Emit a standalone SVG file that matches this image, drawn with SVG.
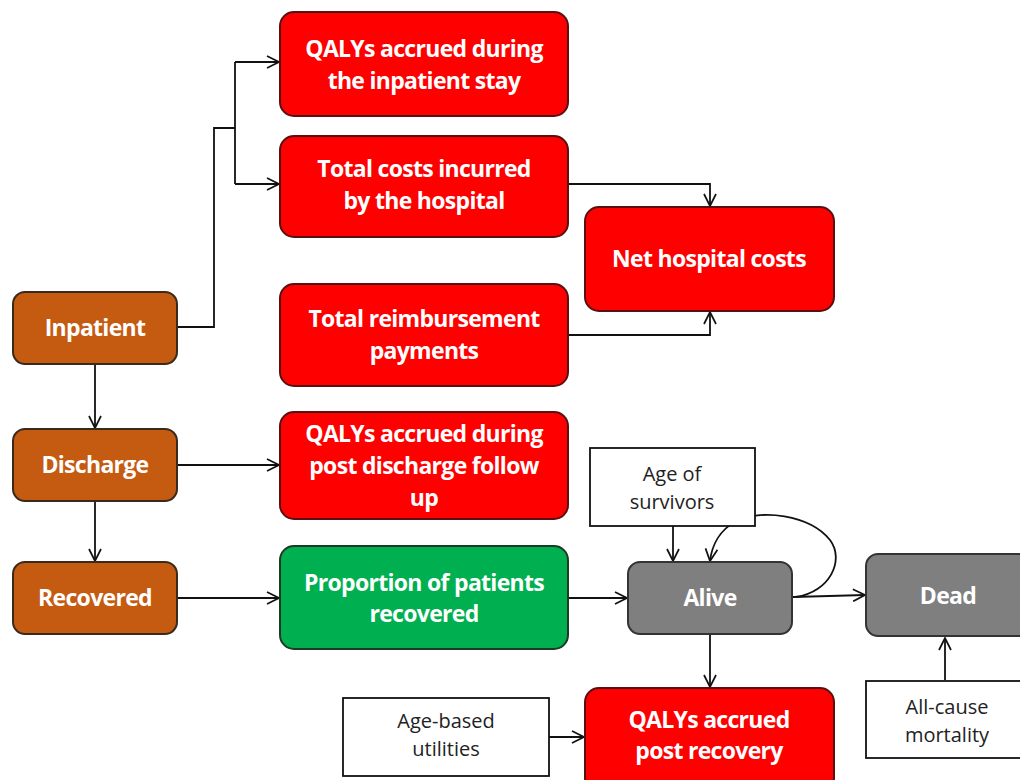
<svg xmlns="http://www.w3.org/2000/svg" width="1020" height="780" viewBox="0 0 1020 780">
<defs>
<marker id="arr" viewBox="0 0 14 14" refX="13" refY="7" markerWidth="14" markerHeight="14" markerUnits="userSpaceOnUse" orient="auto">
<path d="M1,1 L13,7 L1,13" fill="none" stroke="#111" stroke-width="1.7"/>
</marker>
<style>
.c{fill:none;stroke:#111;stroke-width:1.8}
.or{fill:#C55A11;stroke:#3a2a1e;stroke-width:2}
.rd{fill:#FF0000;stroke:#5a1010;stroke-width:2}
.gr{fill:#00B050;stroke:#1d3a25;stroke-width:2}
.gy{fill:#7F7F7F;stroke:#333;stroke-width:2}
.wb{fill:#fff;stroke:#111;stroke-width:1.8}
.t{font-family:"Open Sans","Liberation Sans",sans-serif;font-weight:bold;font-size:23px;fill:#fff;text-anchor:middle;letter-spacing:-0.7px}
.s{font-family:"Open Sans","Liberation Sans",sans-serif;font-size:20px;fill:#222;text-anchor:middle;letter-spacing:0px}
</style>
</defs>
<rect width="1020" height="780" fill="#fff"/>
<g id="connectors">
<polyline class="c" points="177,327 214,327 214,128 235,128"/>
<line class="c" x1="235" y1="62" x2="235" y2="184"/>
<line class="c" x1="235" y1="62" x2="279" y2="62" marker-end="url(#arr)"/>
<line class="c" x1="235" y1="184" x2="279" y2="184" marker-end="url(#arr)"/>
<polyline class="c" points="568,184 710,184 710,206" marker-end="url(#arr)"/>
<polyline class="c" points="568,335 710,335 710,312" marker-end="url(#arr)"/>
<line class="c" x1="95" y1="365" x2="95" y2="428" marker-end="url(#arr)"/>
<line class="c" x1="177" y1="465" x2="279" y2="465" marker-end="url(#arr)"/>
<line class="c" x1="95" y1="501" x2="95" y2="561" marker-end="url(#arr)"/>
<line class="c" x1="177" y1="598" x2="279" y2="598" marker-end="url(#arr)"/>
<line class="c" x1="568" y1="598" x2="627" y2="598" marker-end="url(#arr)"/>
<line class="c" x1="673" y1="526" x2="673" y2="561" marker-end="url(#arr)"/>
<path class="c" d="M796,597 C830,592 845,560 830,540 C810,515 760,508 735,522 C720,530 712,545 710,561" marker-end="url(#arr)"/>
<line class="c" x1="793" y1="597" x2="865" y2="595" marker-end="url(#arr)"/>
<line class="c" x1="710" y1="635" x2="710" y2="687" marker-end="url(#arr)"/>
<line class="c" x1="549" y1="737" x2="584" y2="737" marker-end="url(#arr)"/>
<line class="c" x1="945" y1="680" x2="945" y2="638" marker-end="url(#arr)"/>
</g>
<g id="n-inpatient"><rect class="or" x="13" y="292" width="164" height="72" rx="12"/><text class="t" x="95" y="336">Inpatient</text></g>
<g id="n-discharge"><rect class="or" x="13" y="429" width="164" height="72" rx="12"/><text class="t" x="95" y="473">Discharge</text></g>
<g id="n-recovered"><rect class="or" x="13" y="562" width="164" height="72" rx="12"/><text class="t" x="95" y="606">Recovered</text></g>
<g id="n-qaly-inp"><rect class="rd" x="280" y="12" width="288" height="104" rx="14"/><text class="t" x="424" y="57">QALYs accrued during</text><text class="t" x="424" y="89">the inpatient stay</text></g>
<g id="n-costs"><rect class="rd" x="280" y="136" width="288" height="101" rx="14"/><text class="t" x="424" y="177">Total costs incurred</text><text class="t" x="424" y="209">by the hospital</text></g>
<g id="n-net"><rect class="rd" x="585" y="207" width="249" height="104" rx="14"/><text class="t" x="709" y="267">Net hospital costs</text></g>
<g id="n-reimb"><rect class="rd" x="280" y="284" width="288" height="102" rx="14"/><text class="t" x="424" y="327">Total reimbursement</text><text class="t" x="424" y="359">payments</text></g>
<g id="n-qaly-dis"><rect class="rd" x="280" y="412" width="288" height="107" rx="14"/><text class="t" x="424" y="442">QALYs accrued during</text><text class="t" x="424" y="474">post discharge follow</text><text class="t" x="424" y="506">up</text></g>
<g id="n-prop"><rect class="gr" x="280" y="546" width="288" height="103" rx="14"/><text class="t" x="424" y="591">Proportion of patients</text><text class="t" x="424" y="622">recovered</text></g>
<g id="n-age-surv"><rect class="wb" x="590" y="448" width="165" height="78"/><text class="s" x="672" y="481">Age of</text><text class="s" x="672" y="509">survivors</text></g>
<g id="n-alive"><rect class="gy" x="628" y="562" width="164" height="72" rx="12"/><text class="t" x="710" y="606">Alive</text></g>
<g id="n-dead"><rect class="gy" x="866" y="554" width="170" height="82" rx="12"/><text class="t" x="948" y="604">Dead</text></g>
<g id="n-qaly-rec"><rect class="rd" x="585" y="688" width="249" height="104" rx="14"/><text class="t" x="709" y="728">QALYs accrued</text><text class="t" x="709" y="759">post recovery</text></g>
<g id="n-age-util"><rect class="wb" x="343" y="698" width="206" height="78"/><text class="s" x="446" y="728">Age-based</text><text class="s" x="446" y="756">utilities</text></g>
<g id="n-mort"><rect class="wb" x="866" y="681" width="170" height="77"/><text class="s" x="947" y="714">All-cause</text><text class="s" x="947" y="742">mortality</text></g>
</svg>
